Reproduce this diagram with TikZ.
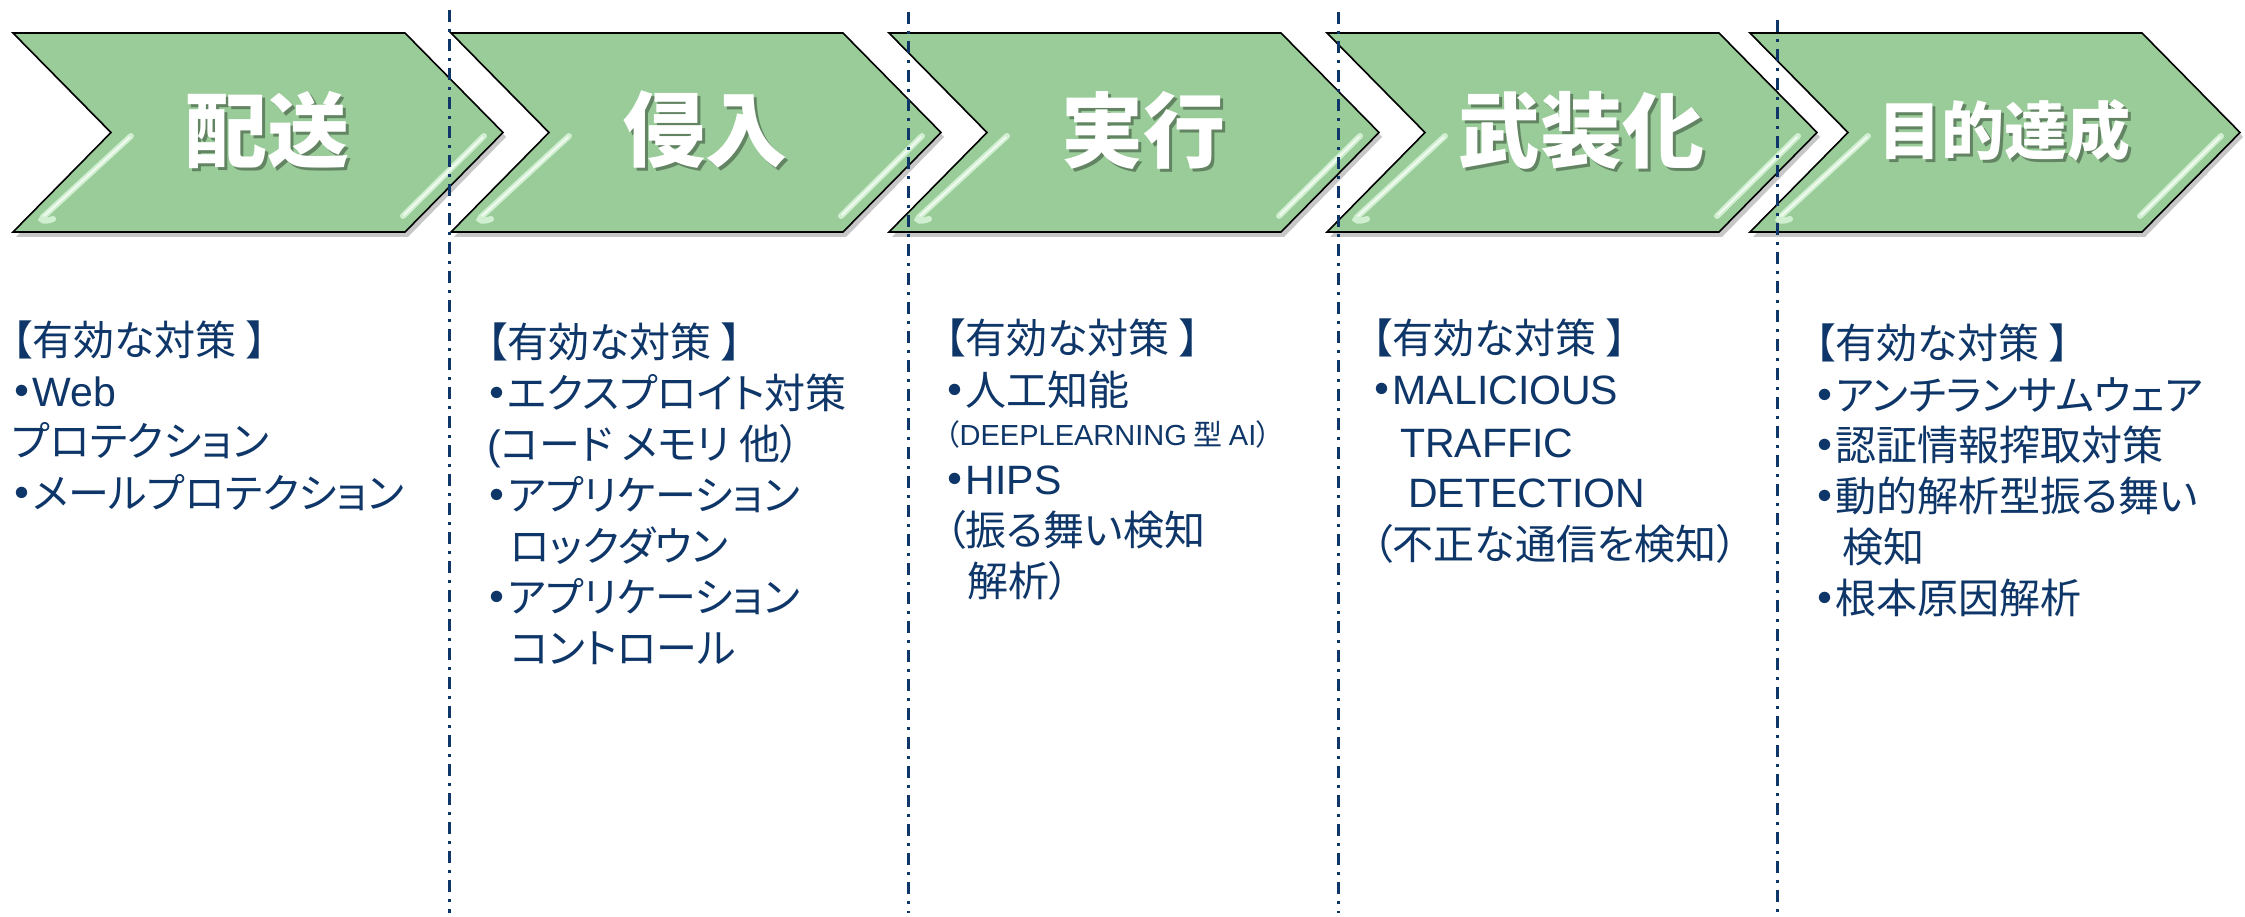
\documentclass[tikz,border=0pt]{standalone}
\usepackage{fontspec}
\newfontfamily\jp[RawFeature=+palt]{Noto Sans CJK JP}
\newfontfamily\latfont{Liberation Sans}
\newcommand\latin[1]{{\latfont #1}}
\newcommand\bul{{\bfseries ・}}
\definecolor{navy}{RGB}{14,54,104}
\definecolor{chevgreen}{RGB}{153,204,153}
\definecolor{glosscol}{RGB}{222,248,222}
\tikzset{
  chevron/.style={fill=chevgreen, draw=black, line width=1.6pt, line join=miter},
  chevshadow/.style={fill=black, opacity=0.22},
  glossline/.style={draw=glosscol, line width=6pt, line cap=round, opacity=0.8},
  glosscore/.style={draw=white, line width=2pt, line cap=round, opacity=0.7},
  titletext/.style={text=white, inner sep=0},
  titleshadow/.style={text=black, opacity=0.35, inner sep=0},
  divider/.style={draw=navy, line width=3pt, dash pattern=on 12pt off 7pt on 3pt off 7pt},
  body/.style={text=navy, font=\jp\fontsize{41}{50}\selectfont, anchor=base west, inner sep=0},
  smallbody/.style={text=navy, font=\jp\fontsize{29}{34}\selectfont, anchor=base west, inner sep=0},
}
\begin{document}
\begin{tikzpicture}[x=1pt,y=-1pt]
\useasboundingbox (0,0) rectangle (2245,917);
\fill[white] (0,0) rectangle (2245,917);

% chevrons
\foreach \x/\n/\t/\s in {13/a/配送/82, 451/b/侵入/82, 889/c/実行/82, 1327/d/武装化/82, 1750/e/目的達成/63} {
  \begin{scope}[shift={(\x,0)}]
    \fill[chevshadow] (3,37) -- (395,37) -- (493,137) -- (395,237) -- (3,237) -- (101,137) -- cycle;
    \path[chevron] (0,33) -- (392,33) -- (490,132.5) -- (392,232) -- (0,232) -- (98,132.5) -- cycle;
    \draw[glossline] (118,136) -- (30,217) .. controls (26,221) and (32,222) .. (40,219);
    \draw[glosscore] (117,137) -- (31,216);
    \draw[glossline] (471,136) -- (390,216);
    \draw[glosscore] (470,137) -- (391,215);
  \end{scope}
  \node[titleshadow, font=\jp\bfseries\fontsize{\s}{\s}\selectfont] (s\n) at (\x+257,133) {\t};
  \node[titletext, font=\jp\bfseries\fontsize{\s}{\s}\selectfont] (t\n) at (\x+254,130) {\t};
}

% dividers
\coordinate (d1t) at (449,10);  \coordinate (d1b) at (449,913);
\coordinate (d2t) at (908,12);  \coordinate (d2b) at (908,913);
\coordinate (d3t) at (1338,12); \coordinate (d3b) at (1338,913);
\coordinate (d4t) at (1777,20); \coordinate (d4b) at (1777,913);
\draw[divider] (d1t) -- (d1b);
\draw[divider] (d2t) -- (d2b);
\draw[divider] (d3t) -- (d3b);
\draw[divider] (d4t) -- (d4b);

% column 1
\node[body] (c1l1) at (12,355) {【有効な対策 】};
\node[body] (c1l2) at (12,406) {\bul\latin{Web}};
\node[body] (c1l3) at (12,456) {プロテクション};
\node[body] (c1l4) at (12,508) {\bul メールプロテクション};

% column 2
\node[body] (c2l1) at (487,357) {【有効な対策 】};
\node[body] (c2l2) at (487,408) {\bul エクスプロイト対策};
\node[body] (c2l3) at (487,459) {\latin{(}コード メモリ 他）};
\node[body] (c2l4) at (487,510) {\bul アプリケーション};
\node[body] (c2l5) at (510,561) {ロックダウン};
\node[body] (c2l6) at (487,612) {\bul アプリケーション};
\node[body] (c2l7) at (510,663) {コントロール};

% column 3
\node[body] (c3l1) at (945,353) {【有効な対策 】};
\node[body] (c3l2) at (945,405) {\bul 人工知能};
\node[smallbody] (c3l3) at (945,445) {（\latin{DEEPLEARNING} 型 \latin{AI}）};
\node[body] (c3l4) at (945,494) {\bul\latin{HIPS}};
\node[body] (c3l5) at (945,545) {（振る舞い検知};
\node[body] (c3l6) at (967,596) {解析）};

% column 4
\node[body] (c4l1) at (1372,353) {【有効な対策 】};
\node[body] (c4l2) at (1372,404) {\bul\latin{MALICIOUS}};
\node[body] (c4l3) at (1400,457) {\latin{TRAFFIC}};
\node[body] (c4l4) at (1408,507) {\latin{DETECTION}};
\node[body] (c4l5) at (1372,559) {（不正な通信を検知）};

% column 5
\node[body] (c5l1) at (1815,358) {【有効な対策 】};
\node[body] (c5l2) at (1815,410) {\bul アンチランサムウェア};
\node[body] (c5l3) at (1815,460) {\bul 認証情報搾取対策};
\node[body] (c5l4) at (1815,511) {\bul 動的解析型振る舞い};
\node[body] (c5l5) at (1842,562) {検知};
\node[body] (c5l6) at (1815,613) {\bul 根本原因解析};
\end{tikzpicture}
\end{document}
